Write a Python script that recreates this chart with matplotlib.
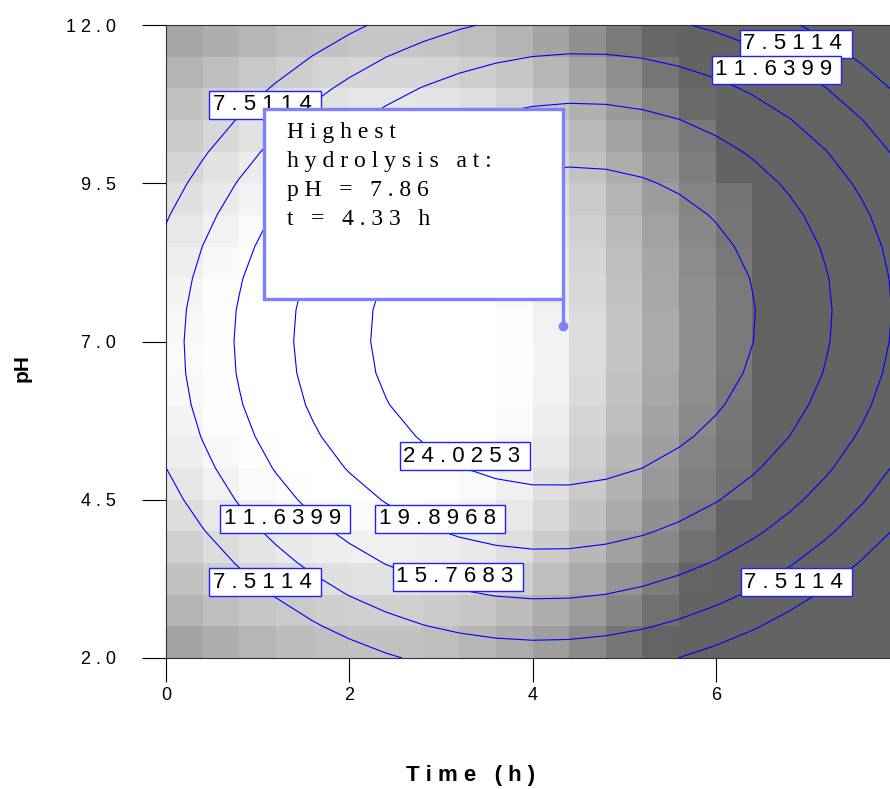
import matplotlib.pyplot as plt
import matplotlib.patches as patches
import numpy as np

# hydrolysis response surface: time (h) vs pH
t_edges = np.arange(0, 8.01, 0.4)
ph_edges = np.arange(2, 12.01, 0.5)

# grey level of each grid cell, rows from pH 12 (top) down to pH 2
shade = [
    [0xA6, 0xAE, 0xB6, 0xBE, 0xC2, 0xC6, 0xC6, 0xC4, 0xBE, 0xB4, 0xA4, 0x90, 0x7A, 0x66, 0x63, 0x63, 0x63, 0x63, 0x63, 0x63],
    [0xB4, 0xBE, 0xC8, 0xCE, 0xD4, 0xD6, 0xD6, 0xD4, 0xCE, 0xC6, 0xB6, 0xA2, 0x8E, 0x76, 0x64, 0x63, 0x63, 0x63, 0x63, 0x63],
    [0xC2, 0xCC, 0xD6, 0xDE, 0xE2, 0xE6, 0xE6, 0xE4, 0xDE, 0xD4, 0xC4, 0xB0, 0x9A, 0x84, 0x6A, 0x63, 0x63, 0x63, 0x63, 0x63],
    [0xCC, 0xD8, 0xE2, 0xEA, 0xEE, 0xF0, 0xF0, 0xEE, 0xE8, 0xDE, 0xCE, 0xBA, 0xA4, 0x8C, 0x78, 0x63, 0x63, 0x63, 0x63, 0x63],
    [0xD6, 0xE2, 0xEC, 0xF2, 0xF6, 0xF8, 0xF8, 0xF6, 0xF0, 0xE6, 0xD6, 0xC2, 0xAC, 0x94, 0x7E, 0x63, 0x63, 0x63, 0x63, 0x63],
    [0xE0, 0xEA, 0xF4, 0xFA, 0xFC, 0xFE, 0xFE, 0xFC, 0xF8, 0xEE, 0xDE, 0xCA, 0xB4, 0x9C, 0x84, 0x74, 0x63, 0x63, 0x63, 0x63],
    [0xE8, 0xF2, 0xFA, 0xFE, 0xFF, 0xFF, 0xFF, 0xFF, 0xFC, 0xF4, 0xE4, 0xD0, 0xBA, 0xA2, 0x88, 0x76, 0x63, 0x63, 0x63, 0x63],
    [0xEE, 0xF8, 0xFE, 0xFF, 0xFF, 0xFF, 0xFF, 0xFF, 0xFF, 0xF8, 0xEA, 0xD6, 0xBE, 0xA6, 0x8C, 0x78, 0x63, 0x63, 0x63, 0x63],
    [0xF4, 0xFC, 0xFF, 0xFF, 0xFF, 0xFF, 0xFF, 0xFF, 0xFF, 0xFA, 0xEE, 0xD8, 0xC2, 0xA8, 0x8E, 0x7A, 0x63, 0x63, 0x63, 0x63],
    [0xF8, 0xFE, 0xFF, 0xFF, 0xFF, 0xFF, 0xFF, 0xFF, 0xFF, 0xFC, 0xF2, 0xDC, 0xC4, 0xAA, 0x90, 0x7A, 0x63, 0x63, 0x63, 0x63],
    [0xFA, 0xFE, 0xFF, 0xFF, 0xFF, 0xFF, 0xFF, 0xFF, 0xFF, 0xFC, 0xF4, 0xDC, 0xC4, 0xAA, 0x90, 0x7A, 0x63, 0x63, 0x63, 0x63],
    [0xF8, 0xFE, 0xFF, 0xFF, 0xFF, 0xFF, 0xFF, 0xFF, 0xFF, 0xFC, 0xF2, 0xDA, 0xC2, 0xA8, 0x8E, 0x78, 0x63, 0x63, 0x63, 0x63],
    [0xF4, 0xFC, 0xFF, 0xFF, 0xFF, 0xFF, 0xFF, 0xFF, 0xFF, 0xFA, 0xEE, 0xD6, 0xBE, 0xA4, 0x8A, 0x76, 0x63, 0x63, 0x63, 0x63],
    [0xEE, 0xF8, 0xFE, 0xFF, 0xFF, 0xFF, 0xFF, 0xFF, 0xFE, 0xF6, 0xE8, 0xD0, 0xB8, 0x9E, 0x84, 0x74, 0x63, 0x63, 0x63, 0x63],
    [0xE6, 0xF2, 0xFA, 0xFE, 0xFF, 0xFF, 0xFF, 0xFF, 0xFA, 0xF0, 0xE0, 0xCA, 0xB2, 0x98, 0x80, 0x72, 0x63, 0x63, 0x63, 0x63],
    [0xDC, 0xE8, 0xF0, 0xF6, 0xF8, 0xFA, 0xFA, 0xF8, 0xF2, 0xE8, 0xD8, 0xC2, 0xAA, 0x90, 0x7A, 0x63, 0x63, 0x63, 0x63, 0x63],
    [0xD0, 0xDC, 0xE4, 0xEA, 0xEE, 0xF0, 0xF0, 0xEE, 0xE8, 0xDE, 0xCC, 0xB8, 0xA0, 0x88, 0x70, 0x63, 0x63, 0x63, 0x63, 0x63],
    [0xC2, 0xCE, 0xD6, 0xDC, 0xE0, 0xE2, 0xE2, 0xE0, 0xD8, 0xCE, 0xBE, 0xAA, 0x94, 0x7C, 0x64, 0x63, 0x63, 0x63, 0x63, 0x63],
    [0xB4, 0xBE, 0xC6, 0xCA, 0xCE, 0xD0, 0xD0, 0xCC, 0xC6, 0xBC, 0xAE, 0x9C, 0x86, 0x70, 0x63, 0x63, 0x63, 0x63, 0x63, 0x63],
    [0xA4, 0xAE, 0xB6, 0xBC, 0xC0, 0xC2, 0xC2, 0xBE, 0xB6, 0xAC, 0x9E, 0x8A, 0x76, 0x64, 0x63, 0x63, 0x63, 0x63, 0x63, 0x63],
]

# fitted quadratic model for hydrolysis
y_max = 28.36
t_opt = 4.33
ph_opt = 7.24
a_t = 0.98
a_ph = 0.68
a_tph = 0.095

levels = [7.5114, 11.6399, 15.7683, 19.8968, 24.0253]

# where each contour value is written (time, pH)
label_vals = [7.5114, 7.5114, 11.6399, 24.0253, 11.6399, 19.8968, 7.5114, 15.7683, 7.5114]
label_t = [0.47, 6.26, 5.95, 2.55, 0.59, 2.28, 0.47, 2.47, 6.27]
label_ph = [10.74, 11.70, 11.29, 5.19, 4.20, 4.20, 3.20, 3.28, 3.20]

callout = ['Highest', 'hydrolysis at:', 'pH = 7.86', 't = 4.33 h']


def spaced(s):
    return ' '.join(s)


fig = plt.figure(figsize=(8.9, 7.89), dpi=100)
ax = fig.add_axes([166/890, 131/789, 733/890, 633/789])

g = np.array(shade[::-1], dtype=float)
ax.pcolormesh(t_edges, ph_edges, g, cmap='gray', vmin=0, vmax=255, shading='flat')

T, P = np.meshgrid(t_edges, ph_edges)
dt = T - t_opt
dp = P - ph_opt
Y = y_max - a_t*dt**2 - a_ph*dp**2 + a_tph*dt*dp
ax.contour(T, P, Y, levels=levels, colors='#0000ff', linewidths=0.8, zorder=3)

for v, tx, py in zip(label_vals, label_t, label_ph):
    ax.text(tx + 0.04, py, spaced('%.4f' % v) + ' ', fontsize=16, family='Liberation Sans',
            va='center', ha='left', zorder=5,
            bbox=dict(boxstyle='square,pad=0.15', fc='white', ec='#2020ff', lw=1))

# callout box with leader to the optimum
box_top = 10.67
box_bot = 7.67
ax.add_patch(patches.Rectangle((1.07, box_bot), t_opt - 1.07, box_top - box_bot,
                               fc='white', ec='#8080ff', lw=2.4, zorder=6))
ax.plot([t_opt, t_opt], [box_bot, ph_opt], color='#8080ff', lw=2.4, zorder=6)
ax.plot([t_opt], [ph_opt], 'o', color='#8080ff', ms=6, zorder=7)
ax.text(1.32, 10.47, '\n'.join(spaced(s) for s in callout), family='Liberation Serif',
        fontsize=17, va='top', ha='left', linespacing=1.5, zorder=8)

ax.set_xlim(0, 8)
ax.set_ylim(2, 12)
ax.set_xticks([0, 2, 4, 6, 8])
ax.set_xticklabels([spaced(str(v)) for v in [0, 2, 4, 6, 8]])
ax.set_yticks([2.0, 4.5, 7.0, 9.5, 12.0])
ax.set_yticklabels([spaced('%.1f' % v) for v in [2.0, 4.5, 7.0, 9.5, 12.0]])
ax.tick_params(axis='both', direction='out', length=17, width=0.8, labelsize=13)
ax.tick_params(axis='y', pad=19)
ax.tick_params(axis='x', pad=4)
for lab in ax.get_xticklabels() + ax.get_yticklabels():
    lab.set_family('Liberation Sans')
for sp in ax.spines.values():
    sp.set_linewidth(0.8)
    sp.set_color('#333333')

fig.text(22/890, 1 - 368/789, 'pH', rotation=90, fontsize=15, fontweight='bold',
         family='Liberation Sans', ha='center', va='center')
fig.text(471/890, 1 - 776/789, spaced('Time (h)'), fontsize=16, fontweight='bold',
         family='Liberation Sans', ha='center', va='center')

plt.savefig('out.png', dpi=100)
